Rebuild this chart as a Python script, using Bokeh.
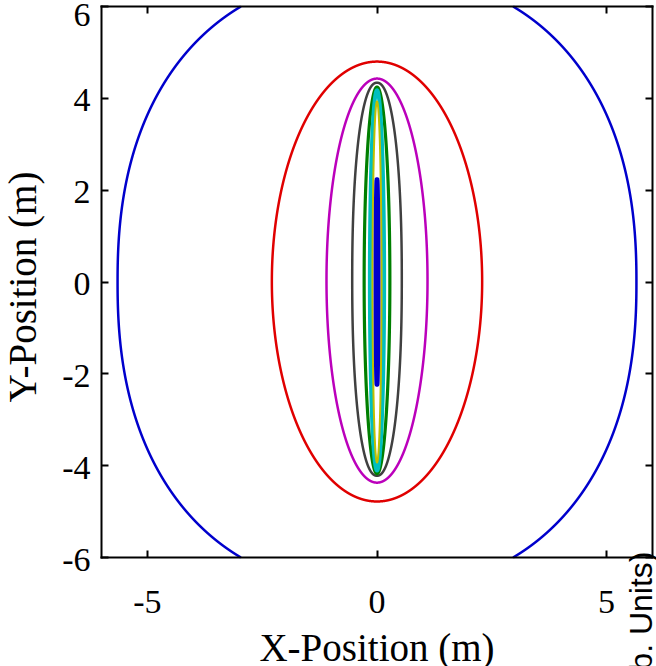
import numpy as np
from bokeh.plotting import figure
from bokeh.models import Range1d, FixedTicker, LinearAxis, Label
from bokeh.embed import file_html
from bokeh.resources import INLINE

# Axis ticks and their labels
x_ticks = [-5, 0, 5]
x_tick_labels = ["-5", "0", "5"]
y_ticks = [-6, -4, -2, 0, 2, 4, 6]
y_tick_labels = ["-6", "-4", "-2", "0", "2", "4", "6"]
box_lo, box_hi = -6.0, 6.0

# Contour levels, outermost first: semi-axes (m), vertical centre (m)
# and the squareness exponent of each closed contour
half_width = [5.65, 2.29, 1.10, 0.54, 0.28, 0.155, 0.098, 0.022]
half_height = [6.71, 4.79, 4.40, 4.28, 4.21, 4.14, 3.93, 2.23]
center_y = [0.0, 0.01, 0.03, 0.06, 0.035, 0.035, 0.0, 0.0]
shape_exp = [2.3, 2.0, 2.0, 2.2, 2.0, 2.0, 2.0, 2.0]

# Line styles for the contour levels
level_colors = ["#0000CC", "#E00000", "#BB00BB", "#404040",
                "#007F00", "#00BFBF", "#BFBF00", "#0000CC"]
level_widths = [2.5, 2.5, 2.5, 2.5, 3.2, 4.0, 2.0, 4.8]

SERIF = "Liberation Serif"
TICK_PX = 34
TITLE_PX = 39
SIDE_PX = 32

# Canvas geometry: the boxed plot area and the margins round it (px)
W, H = 656, 666
m_left, m_right, m_top, m_bottom = 101, 4, 6, 109
ppu = (W - m_left - m_right) / (box_hi - box_lo)

p = figure(width=W, height=H, output_backend="svg", toolbar_location=None,
           x_range=Range1d(box_lo - m_left / ppu, box_hi + m_right / ppu),
           y_range=Range1d(box_lo - m_bottom / ppu, box_hi + m_top / ppu),
           min_border=0, x_axis_location=None, y_axis_location=None)
p.grid.visible = False
p.background_fill_color = "white"
p.border_fill_color = "white"
p.outline_line_color = None


def box_axis(ticks, where):
    return LinearAxis(ticker=FixedTicker(ticks=ticks),
                      fixed_location=where, bounds=(box_lo, box_hi),
                      major_label_overrides={t: "" for t in ticks},
                      major_label_text_font_size="1px",
                      major_label_standoff=0,
                      major_tick_in=7, major_tick_out=0,
                      major_tick_line_width=2, major_tick_line_color="black",
                      minor_tick_line_color=None,
                      axis_line_color="black", axis_line_width=2,
                      axis_line_cap="square")


p.add_layout(box_axis(x_ticks, box_lo), "below")
p.add_layout(box_axis(x_ticks, box_hi), "above")
p.add_layout(box_axis(y_ticks, box_lo), "left")
p.add_layout(box_axis(y_ticks, box_hi), "right")

# Closed contour lines, each traced as a superellipse from its semi-axes;
# the parts beyond the boxed area are left out
t = np.linspace(0.0, 2.0 * np.pi, 40001)
c, s = np.cos(t), np.sin(t)
for a, b, cy, n, col, lw in zip(half_width, half_height, center_y, shape_exp,
                                level_colors, level_widths):
    xs = a * np.sign(c) * np.abs(c) ** (2.0 / n)
    ys = cy + b * np.sign(s) * np.abs(s) ** (2.0 / n)
    outside = (np.abs(xs) > box_hi) | (np.abs(ys) > box_hi)
    xs = np.where(outside, np.nan, xs)
    ys = np.where(outside, np.nan, ys)
    p.line(xs, ys, line_color=col, line_width=lw, line_join="round")

# Tick labels
for v, txt in zip(x_ticks, x_tick_labels):
    p.add_layout(Label(x=v, y=box_lo, y_offset=-44, text=txt,
                       text_align="center", text_baseline="alphabetic",
                       text_font=SERIF, text_font_size=f"{TICK_PX}px",
                       text_color="black"))
for v, txt in zip(y_ticks, y_tick_labels):
    off = -8 if v == max(y_ticks) else -2
    p.add_layout(Label(x=box_lo, y=v, x_offset=-11, y_offset=off, text=txt,
                       text_align="right", text_baseline="alphabetic",
                       text_font=SERIF, text_font_size=f"{TICK_PX}px",
                       text_color="black"))

# Axis titles
p.add_layout(Label(x=0, y=box_lo, y_offset=-90, text="X-Position (m)",
                   text_align="center", text_baseline="alphabetic",
                   text_font=SERIF, text_font_size=f"{TITLE_PX}px",
                   text_color="black"))
p.add_layout(Label(x=box_lo, y=0, x_offset=-79, y_offset=-5,
                   text="Y-Position (m)", angle=np.pi / 2,
                   text_align="center", text_baseline="alphabetic",
                   text_font=SERIF, text_font_size=f"{TITLE_PX}px",
                   text_color="black"))

# Colour-bar title running up the right edge
p.add_layout(Label(x=box_hi, y=box_lo, x_offset=-12, y_offset=6,
                   text="Intensity (Arb. Units)", angle=np.pi / 2,
                   text_align="right", text_baseline="alphabetic",
                   text_font="Liberation Sans", text_font_size=f"{SIDE_PX}px",
                   text_color="black"))

open("out.html", "w").write(file_html(p, INLINE))
